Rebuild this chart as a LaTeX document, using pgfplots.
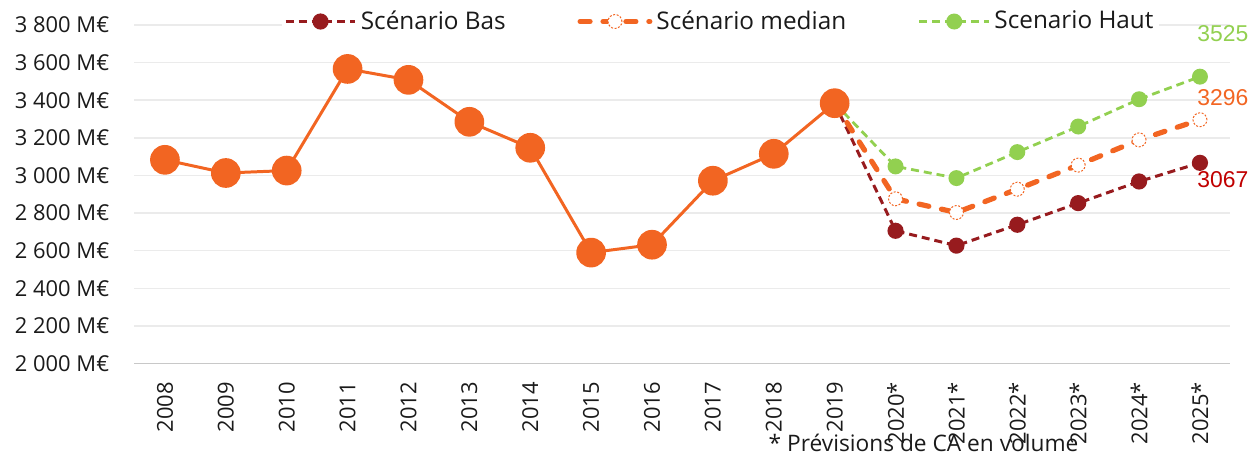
\documentclass[border=0pt]{standalone}
\usepackage{fontspec}
\setmainfont{Open Sans}
\newfontfamily\labelfont{Liberation Sans}
\usepackage{pgfplots}
\pgfplotsset{compat=1.18}
\definecolor{HistOrange}{HTML}{F26522}
\definecolor{BasRed}{HTML}{971B1E}
\definecolor{HautGreen}{HTML}{92D050}
\definecolor{GridGray}{HTML}{EBEBEB}
\definecolor{AxisGray}{HTML}{C8C8C8}
\definecolor{LabelRed}{HTML}{C00000}
\definecolor{TextDark}{HTML}{1A1A1A}

% historique 2008-2019
\pgfplotstableread{
x y
0 3083
1 3013
2 3026
3 3566
4 3508
5 3285
6 3147
7 2590
8 2632
9 2972
10 3115
11 3384
}\histo
% previsions 2020*-2025*, depart 2019
\pgfplotstableread{
x bas median haut
11 3384 3384 3384
12 2706 2876 3048
13 2627 2803 2986
14 2738 2927 3124
15 2853 3055 3260
16 2968 3189 3405
17 3067 3296 3525
}\prev

\begin{document}
\begin{tikzpicture}
\begin{axis}[
  scale only axis,
  width=550pt, height=170pt,
  xmin=-0.5, xmax=17.5,
  ymin=2000, ymax=3800,
  clip=false,
  axis line style={draw=none},
  tick style={draw=none},
  major tick length=0pt,
  xtick={0,...,17},
  xticklabels={2008,2009,2010,2011,2012,2013,2014,2015,2016,2017,2018,2019,2020*,2021*,2022*,2023*,2024*,2025*},
  xticklabel style={rotate=90, anchor=east, inner xsep=9pt, inner ysep=0pt,
    font=\fontsize{11}{13}\selectfont, text=TextDark},
  ytick={2000,2200,...,3800},
  yticklabels={2 000 M€,2 200 M€,2 400 M€,2 600 M€,2 800 M€,3 000 M€,3 200 M€,3 400 M€,3 600 M€,3 800 M€},
  yticklabel style={anchor=east, inner sep=0pt, xshift=-12.5pt,
    font=\fontsize{11}{13}\selectfont, text=TextDark},
  ymajorgrids,
  grid style={draw=GridGray, line width=0.75pt},
  extra y ticks={2000},
  extra y tick labels={},
  extra y tick style={grid style={draw=AxisGray, line width=0.75pt}},
  legend columns=3,
  legend cell align=left,
  legend image code/.code={\draw[mark repeat=2,mark phase=2] plot coordinates {(0pt,0pt) (17.5pt,0pt) (35pt,0pt)};},
  legend style={draw=none, fill=white, at={(0.535,1.01)}, anchor=center,
    font=\fontsize{12.2}{14}\selectfont, text=TextDark, inner sep=1pt,
    /tikz/every even column/.append style={column sep=34pt}},
]
\addplot[draw=BasRed, line width=1.5pt, dash pattern=on 4pt off 2.5pt,
  mark=*, mark size=3.3pt, mark options={solid, fill=BasRed, draw=BasRed}]
  table[x=x, y=bas] {\prev};
\addlegendentry{Scénario Bas}
\addplot[draw=HistOrange, line width=2.6pt, dash pattern=on 5pt off 6.5pt, line cap=round,
  mark=*, mark size=3.5pt, mark options={fill=white, draw=HistOrange, line width=0.5pt,
  dash pattern=on 1pt off 0.8pt, line cap=butt}]
  table[x=x, y=median] {\prev};
\addlegendentry{Scénario median}
\addplot[draw=HautGreen, line width=1.4pt, dash pattern=on 4pt off 2.5pt,
  mark=*, mark size=3.3pt, mark options={solid, fill=HautGreen, draw=HautGreen}]
  table[x=x, y=haut] {\prev};
\addlegendentry{Scenario Haut}
\addplot[forget plot, draw=HistOrange, line width=1.5pt,
  mark=*, mark size=6.7pt, mark options={fill=HistOrange, draw=HistOrange}]
  table[x=x, y=y] {\histo};

\node[font=\labelfont\fontsize{11.5}{13}\selectfont, text=HautGreen, xshift=11.5pt, yshift=21.5pt]
  at (axis cs:17,3525) {3525};
\node[font=\labelfont\fontsize{11.5}{13}\selectfont, text=HistOrange, xshift=11.5pt, yshift=11pt]
  at (axis cs:17,3296) {3296};
\node[font=\labelfont\fontsize{11.5}{13}\selectfont, text=LabelRed, xshift=11.5pt, yshift=-8.5pt]
  at (axis cs:17,3067) {3067};
\end{axis}
\node[font=\fontsize{11.4}{13}\selectfont, text=TextDark]
  at ([shift={(396pt,-40pt)}]current axis.south west) {* Prévisions de CA en volume};
\path ([shift={(-67.5pt,182.5pt)}]current axis.south west) rectangle ([shift={(560pt,-46pt)}]current axis.south west);
\end{tikzpicture}
\end{document}
